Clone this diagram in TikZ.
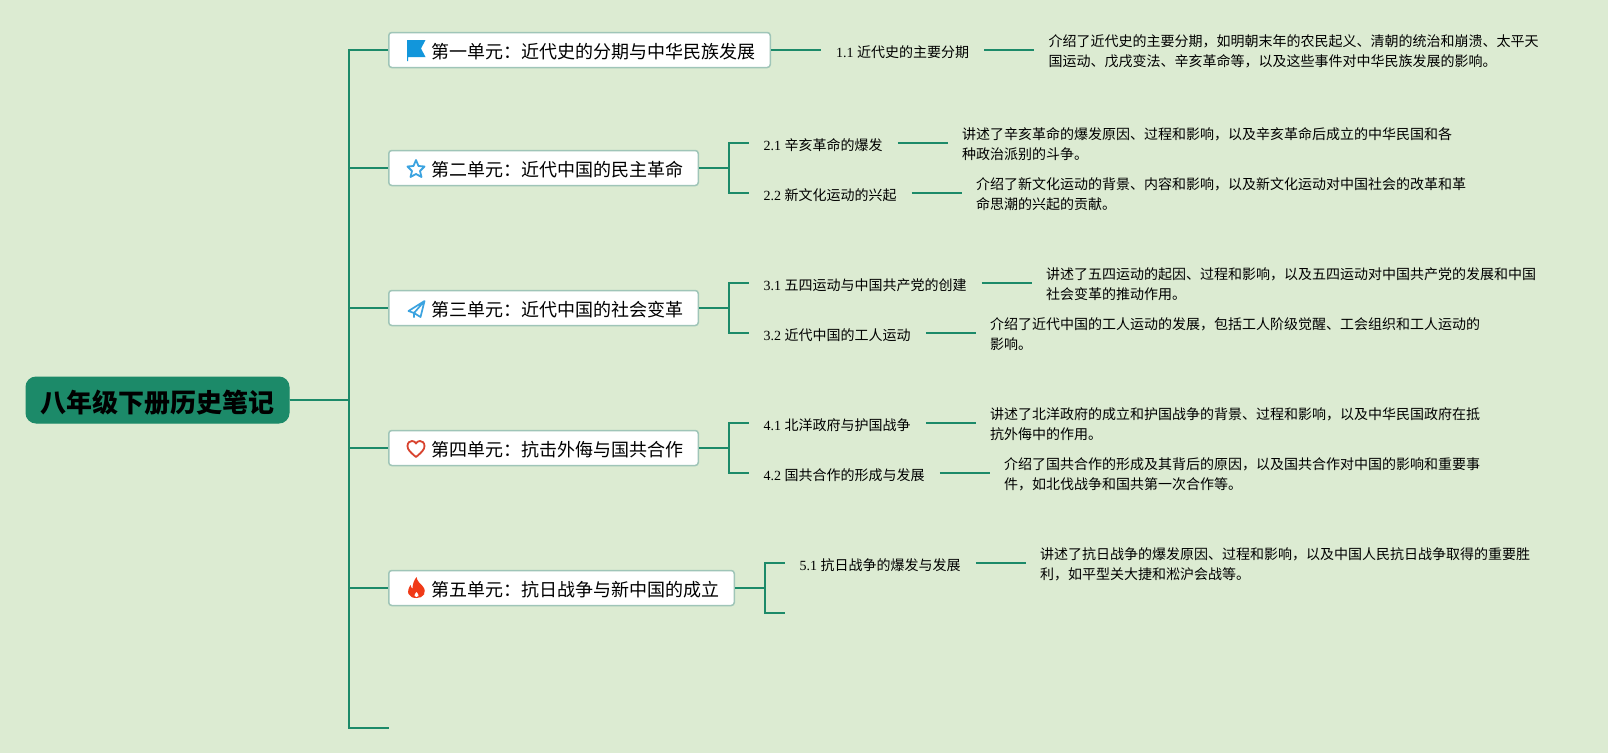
\documentclass[tikz,border=0pt]{standalone}
\usepackage{fontspec}
\setmainfont{Liberation Serif}
\newfontfamily\cjk{Noto Sans CJK SC}
\usetikzlibrary{positioning}
\definecolor{paper}{HTML}{DCEBD2}
\definecolor{branch}{HTML}{1C8A69}
\definecolor{edge}{HTML}{9FC5B8}
\definecolor{flagblue}{HTML}{1296DB}
\definecolor{iconblue}{HTML}{3BA3E0}
\definecolor{heartred}{HTML}{D8432F}
\definecolor{flamered}{HTML}{F03A17}

\begin{document}
\begin{tikzpicture}[
  x = 1pt, y = -1pt,
  root/.style = {rectangle, rounded corners=10pt, draw=branch, fill=branch, line width=1pt,
    font=\fontsize{26}{32}\selectfont\cjk\bfseries, text=black, text height=33pt, text depth=7.3pt,
    minimum width=263pt, minimum height=46pt, inner sep=0pt, anchor=west},
  unit/.style = {rectangle, rounded corners=3pt, draw=edge, fill=white, line width=1.5pt,
    font=\fontsize{18}{22}\selectfont\cjk, text height=23pt, text depth=5.2pt,
    minimum height=35pt, inner xsep=14.5pt, inner ysep=0pt, anchor=west},
  topic/.style = {font=\fontsize{14}{21}\selectfont, text height=16pt, text depth=1.8pt, inner xsep=15pt, inner ysep=0pt},
  note/.style = {font=\fontsize{14}{20.5}\selectfont\cjk, text height=34.7pt, align=left, inner xsep=14pt, inner ysep=0pt},
  conn/.style = {draw=branch, line width=2pt}
]
\fill[paper] (0,0) rectangle (1608,753);

\node[root]             (root) at (25.5,400) {八年级下册历史笔记};
\coordinate             (trunk) at (349,400);
\coordinate             (tail)  at (389,728);

\node[unit] (u1) at (388,50)  {\hspace*{28.5pt}第一单元：近代史的分期与中华民族发展};
\node[unit] (u2) at (388,168) {\hspace*{28.5pt}第二单元：近代中国的民主革命};
\node[unit] (u3) at (388,308) {\hspace*{28.5pt}第三单元：近代中国的社会变革};
\node[unit] (u4) at (388,448) {\hspace*{28.5pt}第四单元：抗击外侮与国共合作};
\node[unit] (u5) at (388,588) {\hspace*{28.5pt}第五单元：抗日战争与新中国的成立};

\node[topic, right=50pt of u1.east]               (s11) {1.1 {\cjk 近代史的主要分期}};
\node[note,  right=50pt of s11]                   (d11) {介绍了近代史的主要分期，如明朝末年的农民起义、清朝的统治和崩溃、太平天\\国运动、戊戌变法、辛亥革命等，以及这些事件对中华民族发展的影响。};

\coordinate[right=30pt of u2.east] (j2);
\node[topic, right=49.5pt of u2.east, yshift=25pt]  (s21) {2.1 {\cjk 辛亥革命的爆发}};
\node[topic, right=49.5pt of u2.east, yshift=-25pt] (s22) {2.2 {\cjk 新文化运动的兴起}};
\node[note,  right=50pt of s21]                     (d21) {讲述了辛亥革命的爆发原因、过程和影响，以及辛亥革命后成立的中华民国和各\\种政治派别的斗争。};
\node[note,  right=50pt of s22]                     (d22) {介绍了新文化运动的背景、内容和影响，以及新文化运动对中国社会的改革和革\\命思潮的兴起的贡献。};

\coordinate[right=30pt of u3.east] (j3);
\node[topic, right=49.5pt of u3.east, yshift=25pt]  (s31) {3.1 {\cjk 五四运动与中国共产党的创建}};
\node[topic, right=49.5pt of u3.east, yshift=-25pt] (s32) {3.2 {\cjk 近代中国的工人运动}};
\node[note,  right=50pt of s31]                     (d31) {讲述了五四运动的起因、过程和影响，以及五四运动对中国共产党的发展和中国\\社会变革的推动作用。};
\node[note,  right=50pt of s32]                     (d32) {介绍了近代中国的工人运动的发展，包括工人阶级觉醒、工会组织和工人运动的\\影响。};

\coordinate[right=30pt of u4.east] (j4);
\node[topic, right=49.5pt of u4.east, yshift=25pt]  (s41) {4.1 {\cjk 北洋政府与护国战争}};
\node[topic, right=49.5pt of u4.east, yshift=-25pt] (s42) {4.2 {\cjk 国共合作的形成与发展}};
\node[note,  right=50pt of s41]                     (d41) {讲述了北洋政府的成立和护国战争的背景、过程和影响，以及中华民国政府在抵\\抗外侮中的作用。};
\node[note,  right=50pt of s42]                     (d42) {介绍了国共合作的形成及其背后的原因，以及国共合作对中国的影响和重要事\\件，如北伐战争和国共第一次合作等。};

\coordinate[right=30pt of u5.east] (j5);
\node[topic, right=49.5pt of u5.east, yshift=25pt]  (s51) {5.1 {\cjk 抗日战争的爆发与发展}};
\coordinate[right=49.5pt of u5.east, yshift=-25pt]  (s52);
\node[note,  right=50pt of s51]                     (d51) {讲述了抗日战争的爆发原因、过程和影响，以及中国人民抗日战争取得的重要胜\\利，如平型关大捷和淞沪会战等。};

\draw[conn] (root.east) -- (trunk) |- (u1.west);
\draw[conn] (root.east) -- (trunk) |- (u2.west);
\draw[conn] (root.east) -- (trunk) |- (u3.west);
\draw[conn] (root.east) -- (trunk) |- (u4.west);
\draw[conn] (root.east) -- (trunk) |- (u5.west);
\draw[conn] (root.east) -- (trunk) |- (tail);

\draw[conn] (u1.east) -- (s11.west);
\draw[conn] (s11.east) -- (d11.west);
\draw[conn] (u2.east) -- (j2) |- (s21.west);
\draw[conn] (u2.east) -- (j2) |- (s22.west);
\draw[conn] (s21.east) -- (d21.west);
\draw[conn] (s22.east) -- (d22.west);
\draw[conn] (u3.east) -- (j3) |- (s31.west);
\draw[conn] (u3.east) -- (j3) |- (s32.west);
\draw[conn] (s31.east) -- (d31.west);
\draw[conn] (s32.east) -- (d32.west);
\draw[conn] (u4.east) -- (j4) |- (s41.west);
\draw[conn] (u4.east) -- (j4) |- (s42.west);
\draw[conn] (s41.east) -- (d41.west);
\draw[conn] (s42.east) -- (d42.west);
\draw[conn] (u5.east) -- (j5) |- (s51.west);
\draw[conn] (u5.east) -- (j5) |- (s52);
\draw[conn] (s51.east) -- (d51.west);

\fill[flagblue] (407,40) -- (425.5,40) -- (421,48.5) -- (425.5,57) -- (408,57) -- (408,61) -- (407,61) -- cycle;
\draw[iconblue, line width=1.8pt, line join=round]
  (416,160) -- (418.5,166) -- (424.5,166.5) -- (420,171) -- (421.5,177)
  -- (416,174) -- (410.5,177) -- (412,171) -- (407.5,166.5) -- (413.5,166) -- cycle;
\draw[iconblue, line width=1.7pt, line join=round]
  (424.5,301) -- (408.5,311) -- (414,313) -- (420.5,317) -- cycle
  (424.5,301) -- (414,313) -- (414,317.5);
\draw[heartred, line width=1.8pt, line join=round]
  (416,457) .. controls (410,452) and (407.5,449.5) .. (407.5,446)
  .. controls (407.5,442.5) and (410,441) .. (412,441)
  .. controls (414,441) and (415.3,442) .. (416,443.5)
  .. controls (416.7,442) and (418,441) .. (420,441)
  .. controls (422,441) and (424.5,442.5) .. (424.5,446)
  .. controls (424.5,449.5) and (422,452) .. (416,457) -- cycle;
\fill[flamered] (416.5,577) .. controls (417.5,582) and (420,583) .. (422.5,586)
  .. controls (425,589) and (425.5,592) .. (424,594.5)
  .. controls (422.5,597) and (419.5,598) .. (416.5,598)
  .. controls (413,598) and (410,597) .. (408.5,594)
  .. controls (407.5,591.5) and (408.5,588) .. (410.5,585)
  .. controls (411,587) and (411.5,588) .. (412.5,588.5)
  .. controls (412.5,584.5) and (414,580) .. (416.5,577) -- cycle;
\fill[white] (416.5,592) .. controls (417.5,593.5) and (419,594.5) .. (418.5,596)
  .. controls (418,597.2) and (415,597.2) .. (414.5,596)
  .. controls (414,594.5) and (415.5,593.5) .. (416.5,592) -- cycle;
\end{tikzpicture}
\end{document}
